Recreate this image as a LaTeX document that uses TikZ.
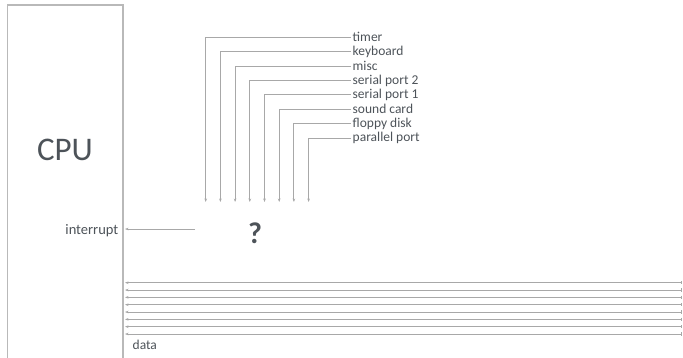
\documentclass[tikz,border=0pt]{standalone}
\usepackage{fontspec}
\setmainfont{Carlito}
\usetikzlibrary{arrows.meta}

\definecolor{ink}{HTML}{4D5359}
\definecolor{wire}{HTML}{A8A8A8}

\begin{document}
\begin{tikzpicture}[x=1pt, y=-1pt,
  font=\fontsize{13.5}{14}\selectfont, text=ink,
  wire/.style={draw=wire, line width=0.9},
  tip/.style={-{Stealth[length=3.5pt, width=2.6pt]}},
  lbl/.style={inner sep=1.5pt, anchor=west},
]
\useasboundingbox (0,0) rectangle (683,357);
\clip (0,0) rectangle (683,357);

% processor box, open at the bottom
\draw[draw=wire!80, line width=1.3] (7.5,370) |- (123,5) -- (123,370);
\node (cpu) at (65,150) {\fontsize{33}{36}\selectfont CPU};
\node[inner sep=1.5pt, anchor=east] (irq) at (120,231) {\fontsize{14.5}{16}\selectfont interrupt};

% interrupt controller, still unknown
\node (ctl) at (255,233) {\fontsize{30}{32}\selectfont\bfseries ?};
\coordinate (irqsrc) at (195,229);
\coordinate (irqin) at (125,229);
\draw[wire, tip] (irqsrc) -- (irqin);

% devices raising interrupt lines
\foreach \name [count=\i from 0] in {timer, keyboard, misc, serial port 2,
    serial port 1, sound card, floppy disk, parallel port} {
  \node[lbl] (dev\i) at (351, 37.3+14.4*\i) {\name};
  \coordinate (req\i) at (205.7+14.7*\i, 202);
  \draw[wire, tip] (dev\i.west) -| (req\i);
}

% data bus
\foreach \j in {0,...,7} {
  \coordinate (busR\j) at (682, 282.7+7.33*\j);
  \coordinate (busL\j) at (125, 282.7+7.33*\j);
  \draw[wire, {Bar[width=3.5pt]}-{Stealth[length=3.5pt, width=2.6pt]}] (busR\j) -- (busL\j);
}
\node[lbl] (bus) at (131,345) {data};
\end{tikzpicture}
\end{document}
